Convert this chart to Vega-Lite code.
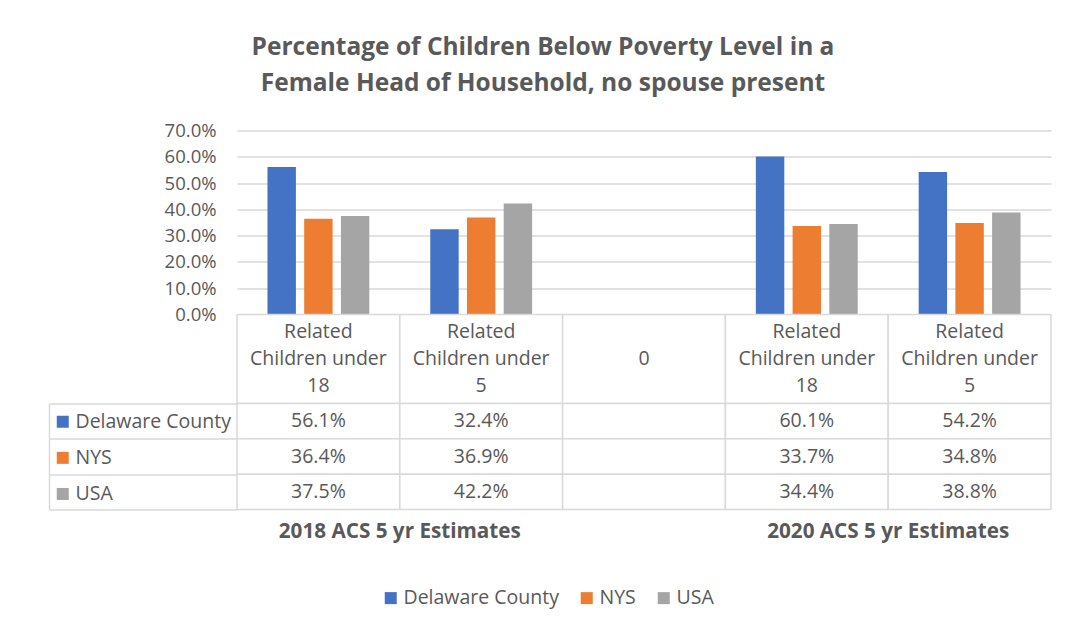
{
  "$schema": "https://vega.github.io/schema/vega-lite/v6.json",
  "padding": {"left": 48, "top": 34.5, "right": 10, "bottom": 10},
  "background": "white",
  "bounds": "flush",
  "spacing": 0,
  "title": {
    "text": ["Percentage of Children Below Poverty Level in a", "Female Head of Household, no spouse present"],
    "font": "Open Sans",
    "fontSize": 24.5,
    "fontWeight": "bold",
    "color": "#595959",
    "lineHeight": 36,
    "anchor": "middle",
    "offset": 25,
    "dx": -7
  },
  "datasets": {
    "values": [
      {"cat": "2018|18", "series": "Delaware County", "value": 0.561},
      {"cat": "2018|18", "series": "NYS", "value": 0.364},
      {"cat": "2018|18", "series": "USA", "value": 0.375},
      {"cat": "2018|5", "series": "Delaware County", "value": 0.324},
      {"cat": "2018|5", "series": "NYS", "value": 0.369},
      {"cat": "2018|5", "series": "USA", "value": 0.422},
      {"cat": "gap", "series": "Delaware County", "value": null},
      {"cat": "gap", "series": "NYS", "value": null},
      {"cat": "gap", "series": "USA", "value": null},
      {"cat": "2020|18", "series": "Delaware County", "value": 0.601},
      {"cat": "2020|18", "series": "NYS", "value": 0.337},
      {"cat": "2020|18", "series": "USA", "value": 0.344},
      {"cat": "2020|5", "series": "Delaware County", "value": 0.542},
      {"cat": "2020|5", "series": "NYS", "value": 0.348},
      {"cat": "2020|5", "series": "USA", "value": 0.388}
    ],
    "cats": [
      {"cat": "2018|18", "label": "Related\nChildren under\n18"},
      {"cat": "2018|5", "label": "Related\nChildren under\n5"},
      {"cat": "gap", "label": "\n0\n"},
      {"cat": "2020|18", "label": "Related\nChildren under\n18"},
      {"cat": "2020|5", "label": "Related\nChildren under\n5"}
    ],
    "groups": [
      {"label": "2018 ACS 5 yr Estimates"},
      {"label": "2020 ACS 5 yr Estimates"}
    ]
  },
  "resolve": {"scale": {"x": "independent", "y": "independent", "color": "independent"}, "legend": {"color": "independent"}},
  "vconcat": [
    {
      "width": 814,
      "height": 184,
      "data": {"name": "values"},
      "mark": {"type": "bar"},
      "encoding": {
        "x": {"field": "cat", "type": "nominal", "sort": null, "axis": null,
              "scale": {"domain": ["2018|18", "2018|5", "gap", "2020|18", "2020|5"], "paddingInner": 0, "paddingOuter": 0}},
        "xOffset": {"field": "series", "type": "nominal",
                    "scale": {"domain": ["Delaware County", "NYS", "USA"], "paddingInner": 0.226, "paddingOuter": 0.83}},
        "y": {"field": "value", "type": "quantitative",
              "scale": {"domain": [0, 0.7], "nice": false},
              "axis": {"values": [0, 0.1, 0.2, 0.3, 0.4, 0.5, 0.6, 0.7], "format": ".1%", "domain": false, "ticks": false,
                       "grid": true, "gridColor": "#d9d9d9", "gridWidth": 1.5, "labelPadding": 21, "labelFontSize": 18.5,
                       "labelColor": "#595959", "labelFont": "Open Sans", "title": null}},
        "color": {"field": "series", "type": "nominal",
                  "scale": {"domain": ["Delaware County", "NYS", "USA"], "range": ["#4472C4", "#ED7D31", "#A5A5A5"]},
                  "legend": {"orient": "none", "direction": "horizontal", "legendX": 144, "legendY": 457.5, "title": null,
                             "symbolType": "square", "symbolSize": 144, "symbolStrokeWidth": 0,
                             "labelFont": "Open Sans", "labelFontSize": 19.5, "labelColor": "#595959",
                             "columnPadding": 18, "labelOffset": 3}}
      }
    },
    {
      "width": 814,
      "height": 89,
      "data": {"name": "cats"},
      "encoding": {
        "x": {"field": "cat", "type": "nominal", "sort": null, "axis": null,
              "scale": {"domain": ["2018|18", "2018|5", "gap", "2020|18", "2020|5"], "paddingInner": 0, "paddingOuter": 0}}
      },
      "layer": [
        {"mark": {"type": "rect", "fill": "white", "stroke": "#d9d9d9", "strokeWidth": 1.5}},
        {"mark": {"type": "text", "lineBreak": "\n", "lineHeight": 27, "dy": -27, "fontSize": 19.5, "font": "Open Sans", "color": "#595959"},
         "encoding": {"text": {"field": "label", "type": "nominal"}}}
      ]
    },
    {
      "width": 814,
      "height": 106,
      "data": {"name": "values"},
      "encoding": {
        "x": {"field": "cat", "type": "nominal", "sort": null, "axis": null,
              "scale": {"domain": ["2018|18", "2018|5", "gap", "2020|18", "2020|5"], "paddingInner": 0, "paddingOuter": 0}},
        "y": {"field": "series", "type": "nominal",
              "scale": {"domain": ["Delaware County", "NYS", "USA"], "paddingInner": 0, "paddingOuter": 0},
              "axis": {"orient": "left", "offset": 188, "tickSize": -188, "tickBand": "extent", "labels": false,
                       "domain": true, "domainColor": "#d9d9d9", "domainWidth": 1.5, "tickColor": "#d9d9d9", "tickWidth": 1.5,
                       "grid": false, "title": null}}
      },
      "layer": [
        {"mark": {"type": "square", "size": 100, "opacity": 1},
         "encoding": {"color": {"field": "series", "type": "nominal",
                  "scale": {"domain": ["Delaware County", "NYS", "USA"], "range": ["#4472C4", "#ED7D31", "#A5A5A5"]},
                  "legend": {"orient": "none", "direction": "vertical", "legendX": -184, "legendY": 8.5, "title": null,
                             "symbolType": "square", "symbolSize": 144, "symbolStrokeWidth": 0, "symbolOpacity": 1,
                             "labelFont": "Open Sans", "labelFontSize": 19.5, "labelColor": "#595959",
                             "rowPadding": 15.1, "labelOffset": 3}}}},
        {"mark": {"type": "rect", "fill": "white", "stroke": "#d9d9d9", "strokeWidth": 1.5}},
        {"transform": [{"filter": "isValid(datum.value)"}],
         "mark": {"type": "text", "fontSize": 19.5, "font": "Open Sans", "color": "#595959"},
         "encoding": {"text": {"field": "value", "type": "quantitative", "format": ".1%"}}}
      ]
    },
    {
      "width": 814,
      "height": 44,
      "data": {"name": "groups"},
      "mark": {"type": "text", "font": "Open Sans", "fontSize": 20.7, "fontWeight": "bold", "color": "#595959"},
      "encoding": {
        "x": {"field": "label", "type": "nominal", "sort": null, "axis": null,
              "scale": {"type": "point", "padding": 0.3333}},
        "text": {"field": "label", "type": "nominal"}
      }
    }
  ],
  "config": {
    "view": {"stroke": null}
  }
}
